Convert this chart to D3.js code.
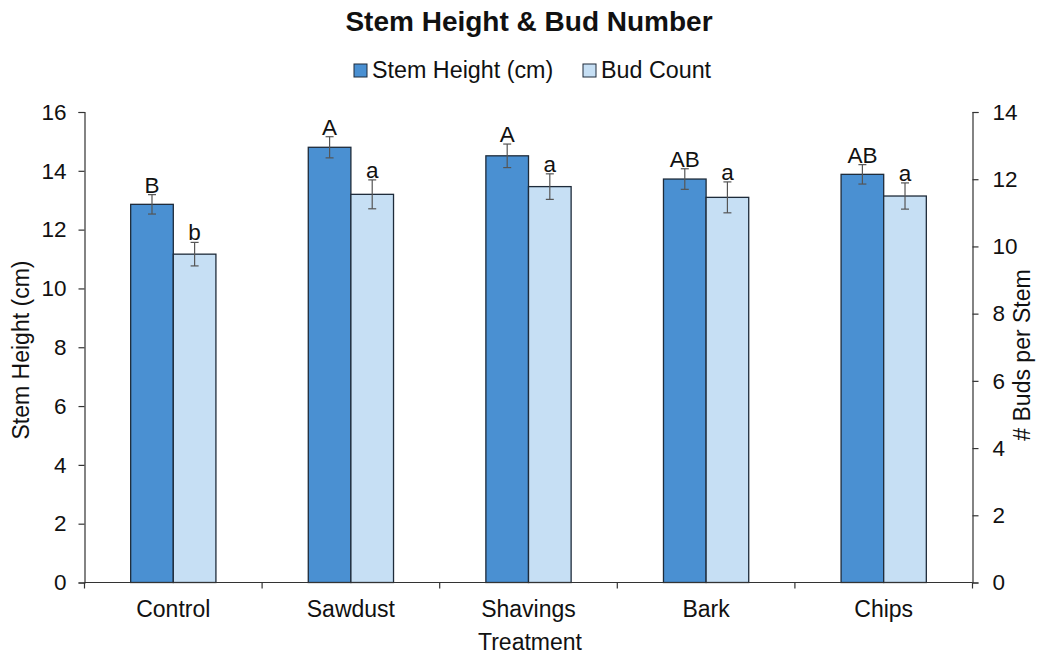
<!DOCTYPE html>
<html>
<head>
<meta charset="utf-8">
<script src="https://cdn.jsdelivr.net/npm/d3@7/dist/d3.min.js"></script>
<style>
  html, body { margin: 0; padding: 0; background: #fff; }
  svg { display: block; font-family: "Liberation Sans", Arial, sans-serif; }
</style>
</head>
<body>
<svg id="chart" width="1048" height="655"></svg>
<script>
// ---- data ----
const categories = ["Control", "Sawdust", "Shavings", "Bark", "Chips"];
const stemHeight = [12.86, 14.80, 14.51, 13.72, 13.88];
const stemErr = [0.33, 0.36, 0.40, 0.35, 0.33];
const stemLetters = ["B", "A", "A", "AB", "AB"];
const budCount = [9.77, 11.55, 11.78, 11.46, 11.50];
const budErr = [0.35, 0.43, 0.38, 0.46, 0.39];
const budLetters = ["b", "a", "a", "a", "a"];
const leftTicks = [0, 2, 4, 6, 8, 10, 12, 14, 16];
const rightTicks = [0, 2, 4, 6, 8, 10, 12, 14];
const seriesNames = ["Stem Height (cm)", "Bud Count"];

const colors = { stem: "#4a90d2", bud: "#c6dff4", stroke: "#1e2b3a", err: "#555" };

const svg = d3.select("#chart");
const margin = { left: 84.5, right: 1048 - 972.5, top: 112, bottom: 655 - 582.5 };
const W = 1048, H = 655;

const x = d3.scaleBand().domain(categories)
  .range([margin.left, W - margin.right])
  .paddingInner(0.52).paddingOuter(0.26);
const sub = d3.scaleBand().domain(["stem", "bud"]).range([0, x.bandwidth()]);
const yL = d3.scaleLinear().domain([0, 16]).range([H - margin.bottom, margin.top]);
const yR = d3.scaleLinear().domain([0, 14]).range([H - margin.bottom, margin.top]);

const font = 22.5;
const legendFont = 23.3;

// title
svg.append("text").attr("x", 529).attr("y", 31).attr("text-anchor", "middle")
  .attr("font-size", 28).attr("font-weight", "bold").attr("fill", "#111")
  .text("Stem Height & Bud Number");

// legend
const legendItems = [
  { name: seriesNames[0], color: colors.stem, x: 354 },
  { name: seriesNames[1], color: colors.bud, x: 583 }
];
legendItems.forEach(d => {
  svg.append("rect").attr("x", d.x).attr("y", 64).attr("width", 13).attr("height", 13)
    .attr("fill", d.color).attr("stroke", colors.stroke).attr("stroke-width", 1);
  svg.append("text").attr("x", d.x + 18).attr("y", 78).attr("font-size", legendFont)
    .attr("fill", "#111").text(d.name);
});

// bars
const data = categories.map((c, i) => ({
  cat: c, stem: stemHeight[i], stemE: stemErr[i], stemL: stemLetters[i],
  bud: budCount[i], budE: budErr[i], budL: budLetters[i]
}));

const g = svg.append("g");
data.forEach(d => {
  const series = [
    { key: "stem", v: d.stem, e: d.stemE, l: d.stemL, y: yL, c: colors.stem },
    { key: "bud", v: d.bud, e: d.budE, l: d.budL, y: yR, c: colors.bud }
  ];
  series.forEach(s => {
    const bx = x(d.cat) + sub(s.key);
    const bw = sub.bandwidth();
    g.append("rect").attr("x", bx).attr("y", s.y(s.v))
      .attr("width", bw).attr("height", s.y(0) - s.y(s.v))
      .attr("fill", s.c).attr("stroke", colors.stroke).attr("stroke-width", 1.3);
    const cx = bx + bw / 2;
    const top = s.y(s.v + s.e), bot = s.y(s.v - s.e);
    g.append("line").attr("x1", cx).attr("x2", cx).attr("y1", top).attr("y2", bot)
      .attr("stroke", colors.err).attr("stroke-width", 1.2);
    [top, bot].forEach(yy => g.append("line").attr("x1", cx - 4).attr("x2", cx + 4)
      .attr("y1", yy).attr("y2", yy).attr("stroke", colors.err).attr("stroke-width", 1.2));
    g.append("text").attr("x", cx).attr("y", top - 2).attr("text-anchor", "middle")
      .attr("font-size", font).attr("fill", "#111").text(s.l);
  });
});

// axes
function styleAxis(sel) {
  sel.selectAll("path, line").attr("stroke", "#333").attr("stroke-width", 1.2);
  sel.selectAll("text").attr("font-size", font).attr("fill", "#111")
    .attr("font-family", "'Liberation Sans', Arial, sans-serif");
}
const axL = svg.append("g").attr("transform", `translate(${margin.left},0)`)
  .call(d3.axisLeft(yL).tickValues(leftTicks).tickSize(6).tickSizeOuter(6).tickPadding(12));
styleAxis(axL);
const axR = svg.append("g").attr("transform", `translate(${W - margin.right},0)`)
  .call(d3.axisRight(yR).tickValues(rightTicks).tickSize(6).tickSizeOuter(6).tickPadding(14));
styleAxis(axR);

// x axis with ticks at band boundaries
const xAxisG = svg.append("g");
xAxisG.append("line").attr("x1", margin.left).attr("x2", W - margin.right)
  .attr("y1", yL(0)).attr("y2", yL(0)).attr("stroke", "#333").attr("stroke-width", 1.2);
const edges = d3.range(categories.length + 1).map(i => margin.left + i * (W - margin.left - margin.right) / categories.length);
edges.forEach(ex => xAxisG.append("line").attr("x1", ex).attr("x2", ex)
  .attr("y1", yL(0)).attr("y2", yL(0) + 6).attr("stroke", "#333").attr("stroke-width", 1.2));
categories.forEach(c => xAxisG.append("text").attr("x", x(c) + x.bandwidth() / 2)
  .attr("y", 617).attr("text-anchor", "middle").attr("font-size", 23).attr("fill", "#111").text(c));

// axis titles
svg.append("text").attr("x", 530).attr("y", 650).attr("text-anchor", "middle")
  .attr("font-size", 23).attr("fill", "#111").text("Treatment");
svg.append("text").attr("transform", "translate(29,350) rotate(-90)")
  .attr("text-anchor", "middle").attr("font-size", 23).attr("fill", "#111").text("Stem Height (cm)");
svg.append("text").attr("transform", "translate(1030,355) rotate(-90)")
  .attr("text-anchor", "middle").attr("font-size", 23).attr("fill", "#111").text("# Buds per Stem");
</script>
</body>
</html>
